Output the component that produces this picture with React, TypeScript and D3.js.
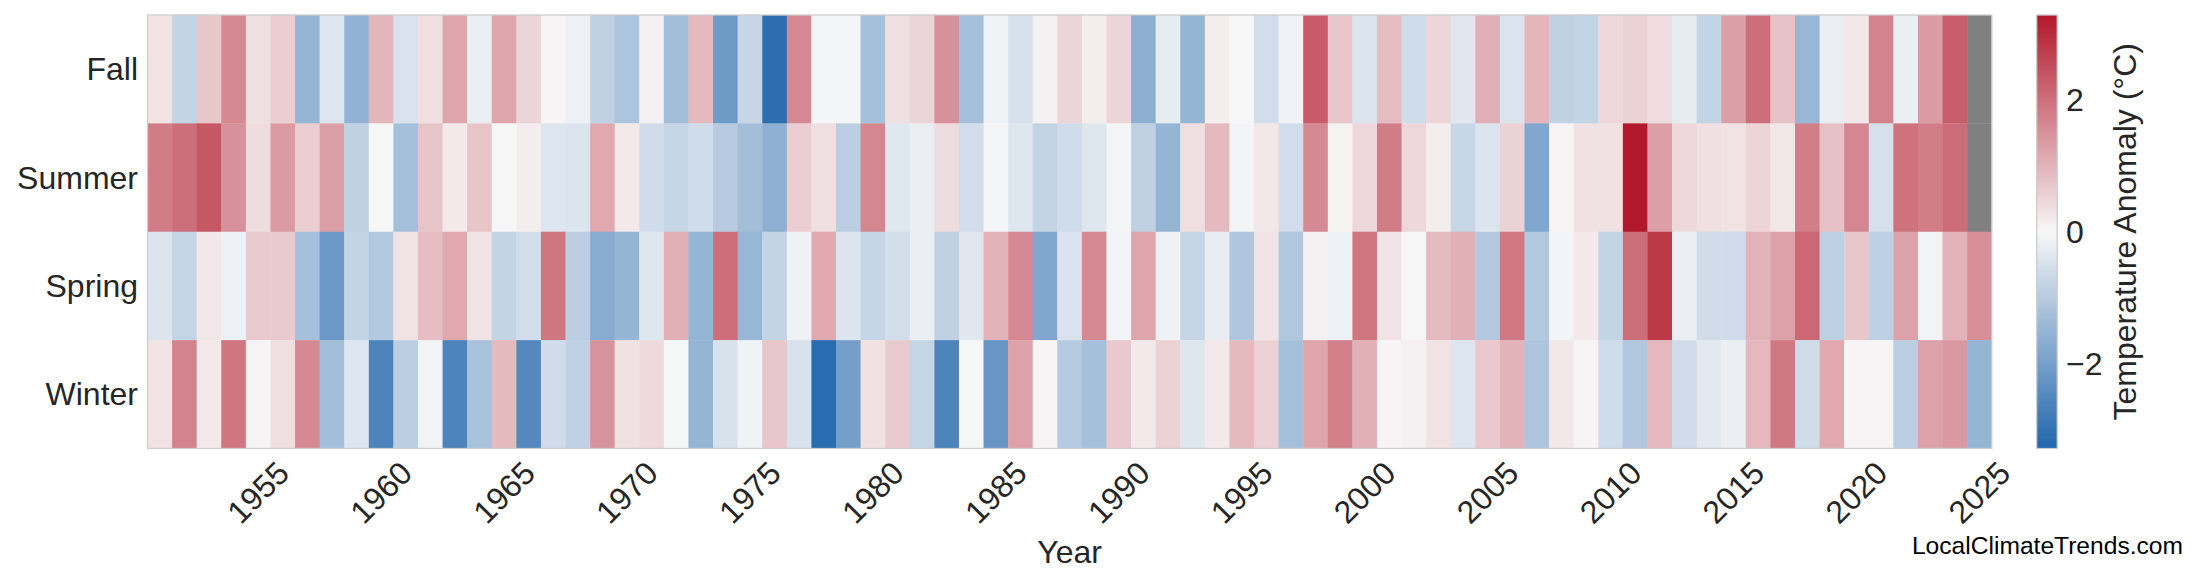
import React from "react";
import * as d3 from "d3";

const years: number[] = d3.range(1951, 2026);
const seasons = ["Fall", "Summer", "Spring", "Winter"];

const fall: (number | null)[] = [
  0.3, -0.8, 0.7, 1.6, 0.35, 0.6, -1.5, -0.4, -1.55, 0.95,
  -0.45, 0.35, 1.2, -0.2, 1.2, 0.5, 0.05, -0.15, -0.85, -1.15,
  0.1, -1.3, 0.9, -2.1, -0.75, -3.1, 1.6, -0.05, -0.05, -1.25,
  0.35, 0.5, 1.5, -1.25, -0.1, -0.5, 0.1, 0.5, 0.15, 0.5,
  -1.65, -0.25, -1.5, 0.15, 0.02, -0.58, -0.1, 2.3, 0.72, -0.42,
  0.85, -0.62, 0.48, -0.36, 1.05, -0.42, 0.95, -0.85, -0.8, 0.45,
  0.55, 0.38, -0.25, -0.8, 1.3, 2.0, 0.78, -1.45, -0.2, 0.22,
  1.7, -0.18, 1.35, 2.25, null,
];

const summer: (number | null)[] = [
  1.8, 2.0, 2.35, 1.5, 0.4, 1.35, 0.6, 1.3, -0.85, -0.03,
  -1.25, 0.75, 0.2, 0.75, 0.02, 0.15, -0.4, -0.42, 1.15, 0.2,
  -0.6, -0.75, -0.62, -1.0, -1.3, -1.6, 0.6, 0.35, -0.9, 1.65,
  -0.35, -0.2, 0.4, -0.58, -0.05, -0.38, -0.8, -0.62, -0.38, -0.05,
  -0.85, -1.5, 0.35, 0.9, -0.07, 0.22, -0.58, 1.6, 0.08, 0.47,
  1.8, 0.47, 0.15, -0.72, -0.42, 0.55, -1.8, 0.05, 0.33, 0.32,
  3.28, 1.3, 0.45, 0.34, 0.3, 0.52, 0.24, 1.78, 0.8, 1.65,
  -0.52, 1.95, 1.78, 2.05, null,
];

const spring: (number | null)[] = [
  -0.42, -0.78, 0.22, -0.15, 0.65, 0.65, -1.25, -2.15, -0.8, -1.05,
  0.3, 0.85, 1.15, 0.3, -0.8, -0.58, 1.9, -0.9, -1.7, -1.5,
  -0.38, 1.05, -1.5, 2.0, -1.45, -0.8, -0.12, 1.15, -0.42, -0.75,
  -0.58, -0.18, -0.85, -0.36, 1.0, 1.6, -1.8, -0.45, 1.6, -0.06,
  1.2, -0.12, -0.77, -0.22, -1.1, 0.28, -1.08, 0.1, -0.15, 1.9,
  0.28, 0.02, 0.88, 1.05, -1.03, 1.85, -1.05, -0.07, 0.2, -0.8,
  2.0, 2.8, -0.18, -0.6, -0.6, 1.0, 1.25, 2.1, -0.88, 0.7,
  -0.88, 1.25, -0.08, 1.0, 1.55,
];

const winter: (number | null)[] = [
  0.3, 1.7, 0.2, 1.9, 0.05, 0.35, 1.6, -1.3, -0.4, -2.6,
  -0.92, -0.08, -2.6, -1.2, 0.9, -2.5, -0.6, -0.85, 1.45, 0.33,
  0.42, -0.03, -1.5, -0.48, -0.1, 0.72, -0.47, -3.15, -2.0, 0.33,
  0.65, -0.78, -2.6, -0.03, -2.2, 1.25, 0.05, -1.0, -1.25, 0.68,
  0.2, 0.55, -0.38, 0.2, 0.9, 0.55, -1.25, 1.2, 1.75, 1.05,
  0.05, 0.1, 0.3, -0.4, 0.68, 1.0, -1.12, 0.22, 0.05, -0.62,
  -1.08, 0.92, -0.6, -0.32, -0.18, 0.92, 1.85, -0.62, 1.15, 0.05,
  0.05, -0.92, 1.25, 1.4, -1.5,
];

const xTickYears = [1955, 1960, 1965, 1970, 1975, 1980, 1985, 1990, 1995, 2000, 2005, 2010, 2015, 2020, 2025];
const cbTicks = [-2, 0, 2];
const vmax = 3.28;

const seriesBySeason: Record<string, (number | null)[]> = {
  Fall: fall,
  Summer: summer,
  Spring: spring,
  Winter: winter,
};

const FONT = "'Liberation Sans', Arial, sans-serif";
const TEXT = "#262626";

export default function App() {
  const W = 2200;
  const H = 585;
  const left = 147.5;
  const right = 1991.7;
  const top = 15;
  const bottom = 448.5;

  const x = d3.scaleBand<number>().domain(years).range([left, right]).padding(0);
  const y = d3.scaleBand<string>().domain(seasons).range([top, bottom]).padding(0);
  const color = d3
    .scaleLinear<string>()
    .domain([-vmax, 0, vmax])
    .range(["#2166ac", "#f7f7f7", "#b2182b"])
    .interpolate(d3.interpolateRgb)
    .clamp(true);

  const cbX = 2036.7;
  const cbW = 20.5;
  const cbY = d3.scaleLinear().domain([-vmax, vmax]).range([bottom, top]);
  const stops = d3.range(0, 1.0001, 0.05);

  const bw = x.bandwidth();

  return (
    <svg
      width={W}
      height={H}
      style={{ position: "absolute", left: 0, top: 0, background: "#fff" }}
      fontFamily={FONT}
    >
      <rect x={0} y={0} width={W} height={H} fill="#fff" />
      <defs>
        <linearGradient id="cbgrad" x1="0" y1="1" x2="0" y2="0">
          {stops.map((s) => (
            <stop key={s} offset={s} stopColor={color(-vmax + s * 2 * vmax)} />
          ))}
        </linearGradient>
      </defs>

      {seasons.map((season) =>
        years.map((yr, i) => {
          const v = seriesBySeason[season][i];
          return (
            <rect
              key={season + yr}
              x={x(yr)!}
              y={y(season)!}
              width={bw + 0.4}
              height={y.bandwidth() + 0.4}
              fill={v === null ? "#808080" : color(v)}
            />
          );
        })
      )}

      <rect
        x={left}
        y={top}
        width={right - left}
        height={bottom - top}
        fill="none"
        stroke="#cccccc"
        strokeWidth={1.25}
      />

      {seasons.map((season) => (
        <text
          key={season}
          x={138}
          y={y(season)! + y.bandwidth() / 2}
          textAnchor="end"
          dominantBaseline="central"
          fontSize={32}
          fill={TEXT}
        >
          {season}
        </text>
      ))}

      {xTickYears.map((yr) => (
        <text
          key={yr}
          transform={`translate(${x(yr)! + bw / 2},492.5) rotate(-45)`}
          textAnchor="middle"
          dominantBaseline="central"
          fontSize={32}
          fill={TEXT}
        >
          {yr}
        </text>
      ))}

      <text x={(left + right) / 2} y={562.7} textAnchor="middle" fontSize={32} fill={TEXT}>
        Year
      </text>

      <rect x={cbX} y={top} width={cbW} height={bottom - top} fill="url(#cbgrad)" stroke="#cccccc" strokeWidth={1.25} />
      {cbTicks.map((t) => (
        <text
          key={t}
          x={2066}
          y={cbY(t)}
          dominantBaseline="central"
          fontSize={32}
          fill={TEXT}
        >
          {t < 0 ? "\u2212" + Math.abs(t) : String(t)}
        </text>
      ))}
      <text
        transform={`translate(2136,${(top + bottom) / 2}) rotate(-90)`}
        textAnchor="middle"
        fontSize={32}
        fill={TEXT}
      >
        Temperature Anomaly (°C)
      </text>

      <text x={2183} y={554.3} textAnchor="end" fontSize={24.6} fill="#000">
        LocalClimateTrends.com
      </text>
    </svg>
  );
}
